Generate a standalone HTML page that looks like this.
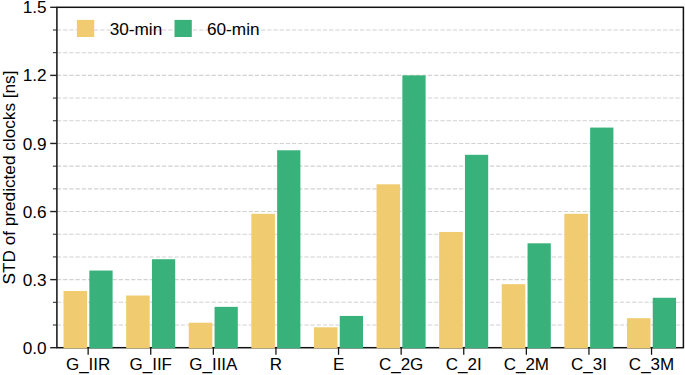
<!DOCTYPE html><html><head><meta charset="utf-8"><style>html,body{margin:0;padding:0;background:#fff}svg{display:block}text{font-family:"Liberation Sans",Arial,Helvetica,sans-serif;fill:#000}</style></head><body>
<svg width="685" height="375" viewBox="0 0 685 375">
<rect width="685" height="375" fill="#fff"/>
<line x1="56.9" x2="683.4" y1="325.01" y2="325.01" stroke="#d2d2d2" stroke-width="1.1" stroke-dasharray="4.32 1.865"/>
<line x1="56.9" x2="683.4" y1="302.31" y2="302.31" stroke="#d2d2d2" stroke-width="1.1" stroke-dasharray="4.32 1.865"/>
<line x1="56.9" x2="683.4" y1="279.62" y2="279.62" stroke="#d2d2d2" stroke-width="1.1" stroke-dasharray="4.32 1.865"/>
<line x1="56.9" x2="683.4" y1="256.93" y2="256.93" stroke="#d2d2d2" stroke-width="1.1" stroke-dasharray="4.32 1.865"/>
<line x1="56.9" x2="683.4" y1="234.23" y2="234.23" stroke="#d2d2d2" stroke-width="1.1" stroke-dasharray="4.32 1.865"/>
<line x1="56.9" x2="683.4" y1="211.54" y2="211.54" stroke="#d2d2d2" stroke-width="1.1" stroke-dasharray="4.32 1.865"/>
<line x1="56.9" x2="683.4" y1="188.85" y2="188.85" stroke="#d2d2d2" stroke-width="1.1" stroke-dasharray="4.32 1.865"/>
<line x1="56.9" x2="683.4" y1="166.15" y2="166.15" stroke="#d2d2d2" stroke-width="1.1" stroke-dasharray="4.32 1.865"/>
<line x1="56.9" x2="683.4" y1="143.46" y2="143.46" stroke="#d2d2d2" stroke-width="1.1" stroke-dasharray="4.32 1.865"/>
<line x1="56.9" x2="683.4" y1="120.77" y2="120.77" stroke="#d2d2d2" stroke-width="1.1" stroke-dasharray="4.32 1.865"/>
<line x1="56.9" x2="683.4" y1="98.07" y2="98.07" stroke="#d2d2d2" stroke-width="1.1" stroke-dasharray="4.32 1.865"/>
<line x1="56.9" x2="683.4" y1="75.38" y2="75.38" stroke="#d2d2d2" stroke-width="1.1" stroke-dasharray="4.32 1.865"/>
<line x1="56.9" x2="683.4" y1="52.69" y2="52.69" stroke="#d2d2d2" stroke-width="1.1" stroke-dasharray="4.32 1.865"/>
<line x1="56.9" x2="683.4" y1="29.99" y2="29.99" stroke="#d2d2d2" stroke-width="1.1" stroke-dasharray="4.32 1.865"/>
<rect x="56.9" y="7.3" width="626.50" height="340.40" fill="none" stroke="#111" stroke-width="1.5"/>
<line x1="50.20" x2="56.9" y1="347.70" y2="347.70" stroke="#222" stroke-width="1.4"/>
<text x="46.60" y="353.80" font-size="17.2" text-anchor="end">0.0</text>
<line x1="52.90" x2="56.9" y1="325.01" y2="325.01" stroke="#222" stroke-width="1.0"/>
<line x1="52.90" x2="56.9" y1="302.31" y2="302.31" stroke="#222" stroke-width="1.0"/>
<line x1="50.20" x2="56.9" y1="279.62" y2="279.62" stroke="#222" stroke-width="1.4"/>
<text x="46.60" y="285.72" font-size="17.2" text-anchor="end">0.3</text>
<line x1="52.90" x2="56.9" y1="256.93" y2="256.93" stroke="#222" stroke-width="1.0"/>
<line x1="52.90" x2="56.9" y1="234.23" y2="234.23" stroke="#222" stroke-width="1.0"/>
<line x1="50.20" x2="56.9" y1="211.54" y2="211.54" stroke="#222" stroke-width="1.4"/>
<text x="46.60" y="217.64" font-size="17.2" text-anchor="end">0.6</text>
<line x1="52.90" x2="56.9" y1="188.85" y2="188.85" stroke="#222" stroke-width="1.0"/>
<line x1="52.90" x2="56.9" y1="166.15" y2="166.15" stroke="#222" stroke-width="1.0"/>
<line x1="50.20" x2="56.9" y1="143.46" y2="143.46" stroke="#222" stroke-width="1.4"/>
<text x="46.60" y="149.56" font-size="17.2" text-anchor="end">0.9</text>
<line x1="52.90" x2="56.9" y1="120.77" y2="120.77" stroke="#222" stroke-width="1.0"/>
<line x1="52.90" x2="56.9" y1="98.07" y2="98.07" stroke="#222" stroke-width="1.0"/>
<line x1="50.20" x2="56.9" y1="75.38" y2="75.38" stroke="#222" stroke-width="1.4"/>
<text x="46.60" y="81.48" font-size="17.2" text-anchor="end">1.2</text>
<line x1="52.90" x2="56.9" y1="52.69" y2="52.69" stroke="#222" stroke-width="1.0"/>
<line x1="52.90" x2="56.9" y1="29.99" y2="29.99" stroke="#222" stroke-width="1.0"/>
<line x1="50.20" x2="56.9" y1="7.30" y2="7.30" stroke="#222" stroke-width="1.4"/>
<text x="46.60" y="13.40" font-size="17.2" text-anchor="end">1.5</text>
<rect x="63.55" y="290.97" width="23.55" height="57.33" fill="#f0cb6f"/>
<rect x="89.35" y="270.54" width="23.25" height="77.76" fill="#38b27a"/>
<line x1="88.15" x2="88.15" y1="347.7" y2="354.80" stroke="#111" stroke-width="1.25"/>
<text x="88.15" y="370" font-size="17" text-anchor="middle">G_IIR</text>
<rect x="126.15" y="295.51" width="23.55" height="52.79" fill="#f0cb6f"/>
<rect x="151.95" y="259.20" width="23.25" height="89.10" fill="#38b27a"/>
<line x1="150.75" x2="150.75" y1="347.7" y2="354.80" stroke="#111" stroke-width="1.25"/>
<text x="150.75" y="370" font-size="17" text-anchor="middle">G_IIF</text>
<rect x="188.75" y="322.74" width="23.55" height="25.56" fill="#f0cb6f"/>
<rect x="214.55" y="306.85" width="23.25" height="41.45" fill="#38b27a"/>
<line x1="213.35" x2="213.35" y1="347.7" y2="354.80" stroke="#111" stroke-width="1.25"/>
<text x="213.35" y="370" font-size="17" text-anchor="middle">G_IIIA</text>
<rect x="251.35" y="213.81" width="23.55" height="134.49" fill="#f0cb6f"/>
<rect x="277.15" y="150.27" width="23.25" height="198.03" fill="#38b27a"/>
<line x1="275.95" x2="275.95" y1="347.7" y2="354.80" stroke="#111" stroke-width="1.25"/>
<text x="275.95" y="370" font-size="17" text-anchor="middle">R</text>
<rect x="313.95" y="327.28" width="23.55" height="21.02" fill="#f0cb6f"/>
<rect x="339.75" y="315.93" width="23.25" height="32.37" fill="#38b27a"/>
<line x1="338.55" x2="338.55" y1="347.7" y2="354.80" stroke="#111" stroke-width="1.25"/>
<text x="338.55" y="370" font-size="17" text-anchor="middle">E</text>
<rect x="376.55" y="184.31" width="23.55" height="163.99" fill="#f0cb6f"/>
<rect x="402.35" y="75.38" width="23.25" height="272.92" fill="#38b27a"/>
<line x1="401.15" x2="401.15" y1="347.7" y2="354.80" stroke="#111" stroke-width="1.25"/>
<text x="401.15" y="370" font-size="17" text-anchor="middle">C_2G</text>
<rect x="439.15" y="231.96" width="23.55" height="116.34" fill="#f0cb6f"/>
<rect x="464.95" y="154.81" width="23.25" height="193.49" fill="#38b27a"/>
<line x1="463.75" x2="463.75" y1="347.7" y2="354.80" stroke="#111" stroke-width="1.25"/>
<text x="463.75" y="370" font-size="17" text-anchor="middle">C_2I</text>
<rect x="501.75" y="284.16" width="23.55" height="64.14" fill="#f0cb6f"/>
<rect x="527.55" y="243.31" width="23.25" height="104.99" fill="#38b27a"/>
<line x1="526.35" x2="526.35" y1="347.7" y2="354.80" stroke="#111" stroke-width="1.25"/>
<text x="526.35" y="370" font-size="17" text-anchor="middle">C_2M</text>
<rect x="564.35" y="213.81" width="23.55" height="134.49" fill="#f0cb6f"/>
<rect x="590.15" y="127.57" width="23.25" height="220.73" fill="#38b27a"/>
<line x1="588.95" x2="588.95" y1="347.7" y2="354.80" stroke="#111" stroke-width="1.25"/>
<text x="588.95" y="370" font-size="17" text-anchor="middle">C_3I</text>
<rect x="626.95" y="318.20" width="23.55" height="30.10" fill="#f0cb6f"/>
<rect x="652.75" y="297.77" width="23.25" height="50.53" fill="#38b27a"/>
<line x1="651.55" x2="651.55" y1="347.7" y2="354.80" stroke="#111" stroke-width="1.25"/>
<text x="651.55" y="370" font-size="17" text-anchor="middle">C_3M</text>
<rect x="76.9" y="19.9" width="17.3" height="17.1" fill="#f0cb6f"/>
<text x="109.7" y="34.5" font-size="17.2">30-min</text>
<rect x="174.5" y="19.9" width="17.3" height="17.1" fill="#38b27a"/>
<text x="207" y="34.5" font-size="17.2">60-min</text>
<text transform="translate(15.3,177.5) rotate(-90)" font-size="17.2" text-anchor="middle">STD of predicted clocks [ns]</text>
</svg></body></html>
